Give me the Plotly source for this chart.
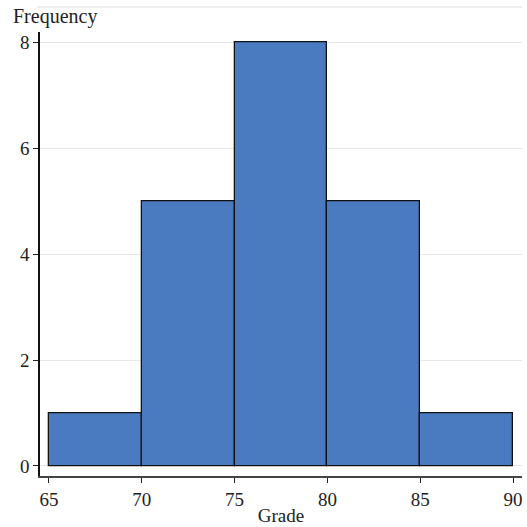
import plotly.graph_objects as go

bin_starts = [65, 70, 75, 80, 85]
bin_width = 5
frequencies = [1, 5, 8, 5, 1]
x_ticks = [65, 70, 75, 80, 85, 90]
y_ticks = [0, 2, 4, 6, 8]

centers = [s + bin_width / 2 for s in bin_starts]

fig = go.Figure(go.Bar(
    x=centers, y=frequencies, width=[bin_width] * len(centers),
    marker=dict(color="#4a7bc0", line=dict(color="#111111", width=1.3)),
))

font = "Liberation Serif, Times New Roman, serif"
fig.update_layout(
    width=527, height=527,
    margin=dict(l=40, r=4, t=7, b=44),
    plot_bgcolor="white", paper_bgcolor="white",
    showlegend=False, bargap=0,
    font=dict(family=font, size=19, color="#222"),
    xaxis=dict(
        range=[64.516, 90.484], tickvals=x_ticks, showgrid=False, zeroline=False,
        showline=True, linecolor="#444", linewidth=1.5,
        ticks="outside", ticklen=5, tickcolor="#222",
        title=dict(text="Grade", font=dict(family=font, size=19), standoff=0),
    ),
    yaxis=dict(
        range=[-0.19, 8.19], tickvals=y_ticks, domain=[0, 0.946],
        showgrid=True, gridcolor="#e8e8e8", zeroline=False,
        showline=True, linecolor="#111", linewidth=1.5,
        ticks="outside", ticklen=5, tickcolor="#222",
    ),
    shapes=[dict(type="line", xref="paper", yref="paper", x0=-0.006, x1=1, y0=1, y1=1,
                 line=dict(color="#e8e8e8", width=1.5))],
    annotations=[dict(text="Frequency", xref="paper", yref="paper", x=-0.06, y=0.979,
                      xanchor="left", yanchor="middle", showarrow=False,
                      font=dict(family=font, size=20, color="#222"))],
)

fig.write_html("out.html", config={"displayModeBar": False},
               post_script="document.body.style.margin='0';document.body.style.overflow='hidden';")
